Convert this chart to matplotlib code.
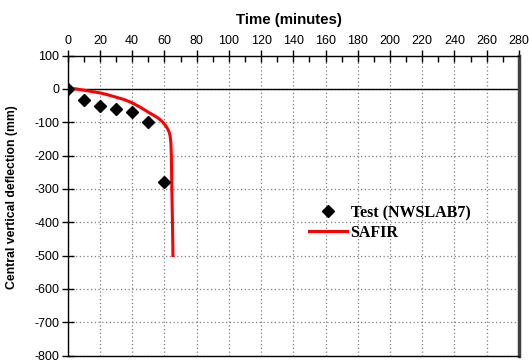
import matplotlib
matplotlib.use("Agg")
import matplotlib.pyplot as plt
from matplotlib.ticker import MultipleLocator

plt.rcParams["axes.unicode_minus"] = False

# Measured test deflections (NWSLAB7)
test_time = [0, 10, 20, 30, 40, 50, 60]
test_defl = [0, -32, -50, -60, -70, -100, -280]

# SAFIR numerical prediction
safir_time = [0, 5, 10, 15, 20, 25, 30, 35, 40, 45, 50, 55, 57, 59, 61, 62, 63, 63.5,
              64.0, 64.3, 64.6, 65.0, 65.3]
safir_defl = [3, 0, -4, -8, -12, -18, -25, -32, -42, -55, -70, -84, -91, -100, -112,
              -120, -131, -140, -160, -200, -300, -400, -500]

x_ticks = list(range(0, 281, 20))
y_ticks = list(range(-800, 101, 100))

fig = plt.figure(figsize=(5.29, 3.61), dpi=100)
ax = fig.add_axes([0.128, 0.0152, 0.853, 0.831])

ax.set_xlim(0, 280)
ax.set_ylim(-800, 100)
ax.set_xticks(x_ticks)
ax.set_yticks(y_ticks)
ax.xaxis.set_minor_locator(MultipleLocator(10))

ax.xaxis.tick_top()
ax.xaxis.set_label_position("top")

ax.grid(True, which="major", color="#7f7f7f", linestyle=(0, (1, 2)), linewidth=0.9)
ax.axhline(0, color="black", linewidth=1.0, zorder=2)

ax.tick_params(axis="both", which="major", direction="inout", length=8, width=1.0,
               labelsize=9, colors="black")
ax.tick_params(axis="x", which="minor", direction="in", length=4, width=1.0)
ax.tick_params(axis="x", which="major", pad=2)
ax.tick_params(axis="y", which="major", pad=2)

for side in ("left", "top", "bottom"):
    ax.spines[side].set_color("black")
    ax.spines[side].set_linewidth(1.0)
ax.spines["right"].set_color("#404040")
ax.spines["right"].set_linewidth(2.5)

ax.plot(safir_time, safir_defl, color="#ff0000", linewidth=2.2, label="SAFIR", zorder=3)
ax.plot(test_time, test_defl, linestyle="none", marker="D", markersize=6,
        color="black", label="Test (NWSLAB7)", zorder=4)

ax.set_xlabel("Time (minutes)", fontsize=10.8, fontweight="bold",
              family="Liberation Sans")
ax.xaxis.set_label_coords(0.491, 1.105)
ax.set_ylabel("Central vertical deflection (mm)", fontsize=8.8, fontweight="bold",
              family="Liberation Sans")
ax.yaxis.set_label_coords(-0.110, 0.528)
for lbl in ax.get_xticklabels() + ax.get_yticklabels():
    lbl.set_family("Liberation Sans")

handles, labels = ax.get_legend_handles_labels()
leg = ax.legend(handles[::-1], labels[::-1], loc="upper left",
                bbox_to_anchor=(309 / 529, 1 - 205 / 361),
                bbox_transform=fig.transFigure, frameon=False, borderpad=0,
                borderaxespad=0, handlelength=2.4, handletextpad=0.2,
                labelspacing=0.25,
                prop={"family": "Liberation Serif", "weight": "bold", "size": 11.5})

fig.savefig("out.png", dpi=100)
